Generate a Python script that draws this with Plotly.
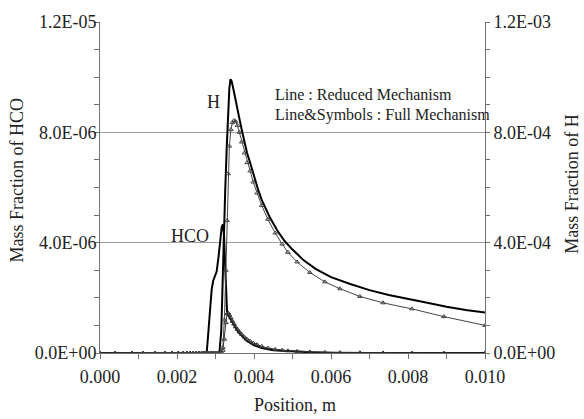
import plotly.graph_objects as go

# ---------------- data ----------------
# Reduced mechanism, H (mass fraction, right axis)
x_h_red = [0.0, 0.0031, 0.00315, 0.0032, 0.00325, 0.00329, 0.00333, 0.00336, 0.00339,
           0.00342, 0.00346, 0.0035, 0.00356, 0.00362, 0.00368, 0.00375, 0.00382, 0.0039,
           0.004, 0.0041, 0.0042, 0.0044, 0.0046, 0.0048, 0.005, 0.0053, 0.0056, 0.006,
           0.0065, 0.007, 0.0075, 0.008, 0.0085, 0.009, 0.0095, 0.01]
h_red = [0, 0, 0.8, 3.6, 5.8, 7.4, 8.8, 9.6, 9.93, 9.85, 9.6, 9.3, 8.9, 8.5, 8.1, 7.65,
         7.25, 6.9, 6.4, 5.95, 5.55, 4.95, 4.45, 4.05, 3.75, 3.35, 3.05, 2.75, 2.5, 2.28,
         2.1, 1.95, 1.82, 1.68, 1.56, 1.47]  # x1E-04

# Reduced mechanism, HCO (left axis)
x_hco_red = [0.0, 0.00277, 0.0028, 0.00286, 0.0029, 0.00294, 0.00298, 0.00303, 0.00308,
             0.00312, 0.00316, 0.00319, 0.00322, 0.00325, 0.00328, 0.0033, 0.00333,
             0.00338, 0.00344, 0.0035, 0.0036, 0.0037, 0.0038, 0.004, 0.0042, 0.0045,
             0.005, 0.0055, 0.006, 0.007, 0.01]
hco_red = [0, 0, 0.5, 1.54, 2.3, 2.62, 2.8, 2.95, 3.5, 4.18, 4.55, 4.66, 4.3, 3.2, 2.0,
           1.5, 1.38, 1.25, 1.1, 0.97, 0.75, 0.58, 0.45, 0.28, 0.18, 0.1, 0.05, 0.025,
           0.01, 0.0, 0.0]  # x1E-06

# Full mechanism grid (shared by both full-mechanism curves)
x_full = [0.0, 0.00039, 0.00083, 0.00112, 0.00143, 0.00169, 0.00187, 0.00203, 0.00216,
          0.00226, 0.00234, 0.00242, 0.0025, 0.00257, 0.00264, 0.0027, 0.00276, 0.00282,
          0.00288, 0.00294, 0.003, 0.00305, 0.0031, 0.00315, 0.00319, 0.00323, 0.00327,
          0.0033, 0.00333, 0.00336, 0.0034, 0.00344, 0.00348, 0.00352, 0.00357, 0.00362,
          0.00368, 0.00375, 0.00382, 0.0039, 0.00398, 0.00408, 0.0042, 0.00436, 0.00455,
          0.00473, 0.00488, 0.00512, 0.00545, 0.00584, 0.00623, 0.00675, 0.00735, 0.0081,
          0.00893, 0.01]
h_full = [0, 0, 0, 0, 0, 0, 0, 0, 0, 0, 0, 0, 0, 0, 0, 0, 0, 0, 0, 0, 0, 0, 0, 0.02,
          0.2, 1.2, 3.0, 4.8, 6.5, 7.5, 8.1, 8.35, 8.43, 8.4, 8.25, 8.0, 7.65, 7.25, 6.9,
          6.6, 6.2, 5.8, 5.35, 4.85, 4.35, 3.95, 3.65, 3.3, 2.92, 2.58, 2.33, 2.05, 1.82,
          1.6, 1.32, 1.0]  # x1E-04
hco_full = [0, 0, 0, 0, 0, 0, 0, 0, 0, 0, 0, 0, 0, 0, 0, 0, 0, 0, 0, 0, 0, 0, 0, 0.02,
            0.1, 0.5, 1.1, 1.42, 1.45, 1.38, 1.27, 1.15, 1.05, 0.95, 0.86, 0.77, 0.68,
            0.58, 0.5, 0.43, 0.36, 0.3, 0.24, 0.18, 0.13, 0.1, 0.08, 0.06, 0.04, 0.025,
            0.015, 0.01, 0.005, 0, 0, 0]  # x1E-06

x_tickvals = [0.0, 0.002, 0.004, 0.006, 0.008, 0.010]
x_ticktext = ["0.000", "0.002", "0.004", "0.006", "0.008", "0.010"]
yl_tickvals = [0.0, 4e-6, 8e-6, 1.2e-5]
yl_ticktext = ["0.0E+00", "4.0E-06", "8.0E-06", "1.2E-05"]
yr_tickvals = [0.0, 4e-4, 8e-4, 1.2e-3]
yr_ticktext = ["0.0E+00", "4.0E-04", "8.0E-04", "1.2E-03"]

# ---------------- figure ----------------
FONT = "Liberation Serif"
TXT = "#222222"
AX = "#707070"

fig = go.Figure()

fig.add_trace(go.Scatter(x=x_hco_red, y=[v * 1e-6 for v in hco_red], mode="lines",
                         line=dict(color="black", width=2), yaxis="y", name="HCO reduced"))
fig.add_trace(go.Scatter(x=x_full, y=[v * 1e-6 for v in hco_full], mode="lines+markers",
                         line=dict(color="#333333", width=1),
                         marker=dict(symbol="triangle-up-open", size=4, color="#333333",
                                     line=dict(width=1)),
                         yaxis="y", name="HCO full"))
fig.add_trace(go.Scatter(x=x_h_red, y=[v * 1e-4 for v in h_red], mode="lines",
                         line=dict(color="black", width=2), yaxis="y2", name="H reduced"))
fig.add_trace(go.Scatter(x=x_full, y=[v * 1e-4 for v in h_full], mode="lines+markers",
                         line=dict(color="#444444", width=1),
                         marker=dict(symbol="triangle-up-open", size=4, color="#444444",
                                     line=dict(width=1)),
                         yaxis="y2", name="H full"))

fig.update_layout(
    width=584, height=419,
    margin=dict(l=100, r=99, t=19, b=66),
    paper_bgcolor="white", plot_bgcolor="white",
    showlegend=False,
    font=dict(family=FONT, size=18, color=TXT),
    xaxis=dict(
        range=[0, 0.010], tickvals=x_tickvals, ticktext=x_ticktext,
        showline=True, linecolor=AX, linewidth=1, mirror=False,
        ticks="outside", ticklen=5, tickcolor=AX,
        tickfont=dict(family=FONT, size=18), ticklabelstandoff=2,
        minor=dict(dtick=0.001, ticks="outside", ticklen=5, tickcolor=AX, showgrid=False),
        showgrid=False, zeroline=False,
    ),
    yaxis=dict(
        range=[0, 1.2e-5], tickvals=yl_tickvals, ticktext=yl_ticktext,
        showline=True, linecolor=AX, linewidth=1,
        ticks="outside", ticklen=5, tickcolor=AX,
        tickfont=dict(family=FONT, size=18), ticklabelstandoff=-6,
        minor=dict(dtick=1e-6, tick0=0, ticks="outside", ticklen=5, tickcolor=AX, showgrid=False),
        showgrid=True, gridcolor="#a0a0a0", gridwidth=1, zeroline=False,
    ),
    yaxis2=dict(
        range=[0, 1.2e-3], tickvals=yr_tickvals, ticktext=yr_ticktext,
        overlaying="y", side="right",
        showline=True, linecolor=AX, linewidth=1,
        ticks="outside", ticklen=4, tickcolor=AX,
        tickfont=dict(family=FONT, size=18),
        minor=dict(dtick=1e-4, tick0=0, ticks="outside", ticklen=4, tickcolor=AX, showgrid=False),
        showgrid=False, zeroline=False,
    ),
)

# axis titles
fig.add_annotation(x=0.506, y=-0.156, xref="paper", yref="paper", text="Position, m",
                   xanchor="center", yanchor="middle",
                   showarrow=False, font=dict(size=18, family=FONT, color=TXT))
fig.add_annotation(x=-0.216, y=0.524, xref="paper", yref="paper", text="Mass Fraction of HCO",
                   xanchor="center", yanchor="middle",
                   textangle=-90, showarrow=False, font=dict(size=18, family=FONT, color=TXT))
fig.add_annotation(x=1.224, y=0.509, xref="paper", yref="paper", text="Mass Fraction of H",
                   xanchor="center", yanchor="middle",
                   textangle=-90, showarrow=False, font=dict(size=18, family=FONT, color=TXT))

# curve labels and notes
fig.add_annotation(x=0.00294, y=9.1e-6, xref="x", yref="y", text="H", showarrow=False,
                   font=dict(size=18, family=FONT, color=TXT))
fig.add_annotation(x=0.00234, y=4.25e-6, xref="x", yref="y", text="HCO", showarrow=False,
                   font=dict(size=18, family=FONT, color=TXT))
fig.add_annotation(x=0.00449, y=9.38e-6, xref="x", yref="y", text="Line : Reduced Mechanism",
                   showarrow=False, xanchor="left", yanchor="middle",
                   font=dict(size=16, family=FONT, color=TXT))
fig.add_annotation(x=0.00449, y=8.62e-6, xref="x", yref="y",
                   text="Line&amp;Symbols : Full Mechanism",
                   showarrow=False, xanchor="left", yanchor="middle",
                   font=dict(size=16, family=FONT, color=TXT))

# remove the browser's default 8px body margin so the 584x419 figure fills the window
fig.write_html("out.html", config={"displayModeBar": False},
               post_script="document.body.style.margin='0';")
